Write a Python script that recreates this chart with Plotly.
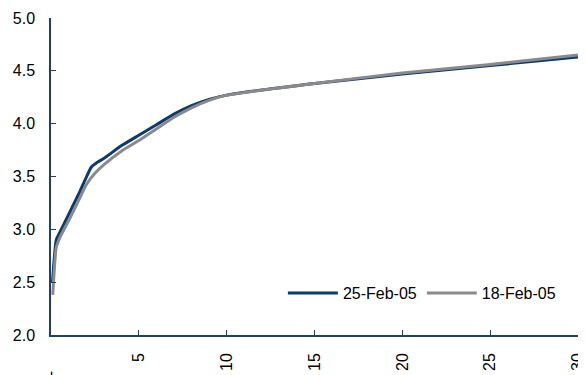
import plotly.graph_objects as go

maturity_25 = [0.08, 0.3, 0.5, 1, 1.65, 2, 2.3, 2.6, 3, 4, 5, 6, 7, 8, 9, 10, 15, 20, 25, 30]
yield_25 = [2.49, 2.90, 2.97, 3.14, 3.36, 3.49, 3.59, 3.63, 3.67, 3.79, 3.89, 3.99, 4.09, 4.17, 4.23, 4.27, 4.38, 4.47, 4.55, 4.63]

maturity_18 = [0.1, 0.3, 0.5, 1, 1.65, 2, 2.5, 3, 4, 5, 6, 7, 8, 9, 10, 15, 20, 25, 30]
yield_18 = [2.38, 2.83, 2.92, 3.08, 3.30, 3.42, 3.53, 3.61, 3.74, 3.84, 3.95, 4.06, 4.15, 4.22, 4.27, 4.38, 4.48, 4.56, 4.65]

x_tickvals = [0, 5, 10, 15, 20, 25, 30]
x_ticktext = ["-\u00a0\u00a0\u00a0\u00a0", "5", "10", "15", "20", "25", "30"]
y_tickvals = [2.0, 2.5, 3.0, 3.5, 4.0, 4.5, 5.0]
y_ticktext = ["2.0", "2.5", "3.0", "3.5", "4.0", "4.5", "5.0"]

BLUE = "#0B3A6E"
GRAY = "#8A8A8A"
AXIS = "#1F3F6F"

fig = go.Figure()
fig.add_trace(go.Scatter(x=maturity_25, y=yield_25, mode="lines", name="25-Feb-05",
                         line=dict(color=BLUE, width=3, shape="spline", smoothing=0.5)))
fig.add_trace(go.Scatter(x=maturity_18, y=yield_18, mode="lines", name="18-Feb-05",
                         line=dict(color=GRAY, width=3, shape="spline", smoothing=0.5)))

# page body has an 8px default margin: size the figure to fit the 586x375 window
fig.update_layout(
    width=578, height=367,
    margin=dict(l=43, r=8, t=10, b=40),
    paper_bgcolor="white", plot_bgcolor="white",
    font=dict(family="Liberation Sans, Arial, sans-serif", size=16, color="black"),
    showlegend=True,
    legend=dict(orientation="h", x=0.44, y=0.132, xanchor="left", yanchor="middle",
                bgcolor="rgba(0,0,0,0)", font=dict(size=16), itemwidth=50,
                traceorder="normal"),
    xaxis=dict(range=[0, 30], tickvals=x_tickvals, ticktext=x_ticktext, tickangle=-90,
               showgrid=False, zeroline=False, showline=True, linecolor=AXIS, linewidth=1.5,
               ticks="inside", ticklen=5, tickcolor=AXIS, tickwidth=1.2,
               ticklabelstandoff=10, ticklabeloverflow="allow", automargin=False),
    yaxis=dict(range=[2, 5], tickvals=y_tickvals, ticktext=y_ticktext,
               showgrid=False, zeroline=False, showline=True, linecolor=AXIS, linewidth=1.5,
               ticks="inside", ticklen=5, tickcolor=AXIS, tickwidth=1.2,
               ticklabelstandoff=11, ticklabeloverflow="allow", automargin=False),
)

fig.write_html("out.html")
